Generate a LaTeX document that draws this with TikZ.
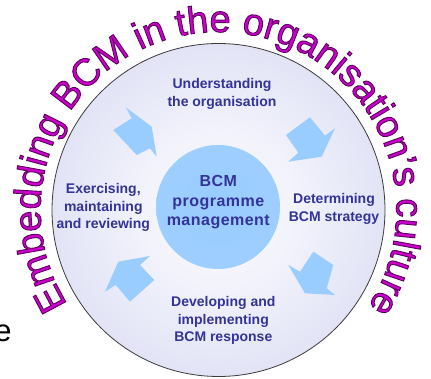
\documentclass[tikz,border=0pt]{standalone}
\usepackage{fontspec}
\setmainfont{Liberation Sans}
\usetikzlibrary{decorations.text,shadings}
\definecolor{navy}{RGB}{51,51,153}
\definecolor{lblue}{RGB}{153,204,255}
\definecolor{bcmmag}{RGB}{204,0,204}
\definecolor{ringedge}{RGB}{60,60,60}
\definecolor{lav}{RGB}{226,228,246}
\newcommand\outlinetext{\special{pdf:literal direct 2 Tr 0.9 w 0.35 0 0.35 RG}}
\tikzset{
  steptext/.style={text=navy, font=\bfseries\fontsize{14}{17.5}\selectfont, align=center, inner sep=0pt},
  blockarrow/.style={fill=lblue, draw=none},
  arctitle/.style={decorate, decoration={text effects along path,
    text={Embedding BCM in the organisation's culture},
    text effects/.cd, text along path, fit text to path,
    characters={inner sep=0pt, font={\color{bcmmag}\fontsize{38}{38}\selectfont\outlinetext}}}},
}
\begin{document}
\begin{tikzpicture}[x=1pt,y=1pt]
\useasboundingbox (0,0) rectangle (431,379);
\fill[white] (0,0) rectangle (431,379);
% outer disc
\coordinate (c) at (218.5,169);
\shade[inner color=white, outer color=lav] (c) circle[radius=166.5];
\draw[ringedge, line width=0.8pt] (c) circle[radius=166.5];
% centre
\shade[inner color=lblue, outer color=lblue!95!white] (218,172) circle[radius=62];
\node[text=navy, font=\bfseries\fontsize{16}{19.5}\selectfont\addfontfeature{LetterSpace=3}, align=center, inner sep=0pt] (core) at (218.3,176.5) {BCM\\programme\\management};
% steps
\node[steptext] (understand) at (222,285) {Understanding\\the organisation};
\node[steptext] (determine) at (334,170) {Determining\\BCM strategy};
\node[steptext] (develop) at (223.3,58.5) {Developing and\\implementing\\BCM response};
\node[steptext] (exercise) at (103.3,171.5) {Exercising,\\maintaining\\and reviewing};
% block arrows
\fill[blockarrow] (113.3,249) -- (131.7,260.7) -- (125.7,271.7) -- (151.7,252.3) -- (156.7,222.3) -- (150,230.7) -- (136.7,224) -- cycle;
\fill[blockarrow] (286,244) -- (310,261.7) -- (325,243.3) -- (335,250.7) -- (321.7,222.3) -- (288.3,217.3) -- (298.3,226.3) -- cycle;
\fill[blockarrow] (313.3,127.3) -- (333.3,114) -- (326.7,90.7) -- (335,84) -- (305,85.7) -- (288.3,114) -- (300,107.3) -- cycle;
\fill[blockarrow] (150,123) -- (140,114) -- (154.3,99) -- (130,77.3) -- (115.7,94) -- (105,87.3) -- (118.3,117.3) -- cycle;
% curved title
\path[arctitle] (c) ++(212:178) arc[start angle=212, end angle=-33, radius=178];
% cropped letter at the left edge
\node[anchor=base east, inner sep=0pt, font=\fontsize{31}{31}\selectfont] (cut) at (11.7,37.3) {e};
\end{tikzpicture}
\end{document}
